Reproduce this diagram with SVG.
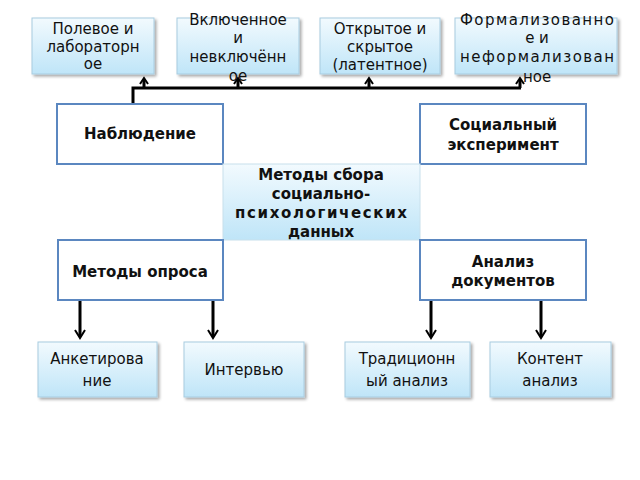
<svg xmlns="http://www.w3.org/2000/svg" width="640" height="480" viewBox="0 0 640 480">
<defs>
<linearGradient id="lb" x1="0" y1="0" x2="0" y2="1">
<stop offset="0" stop-color="#f2fafe"/>
<stop offset="1" stop-color="#bfe5f8"/>
</linearGradient>
<filter id="sh" x="-10%" y="-10%" width="130%" height="130%">
<feGaussianBlur in="SourceAlpha" stdDeviation="1.5"/>
<feOffset dx="1.5" dy="2" result="b"/>
<feComponentTransfer><feFuncA type="linear" slope="0.35"/></feComponentTransfer>
<feMerge><feMergeNode/><feMergeNode in="SourceGraphic"/></feMerge>
</filter>
</defs>
<style>
.lt{fill:url(#lb);stroke:#a8cce0;stroke-width:1;filter:url(#sh)}
.wt{fill:#ffffff;stroke:#5b87c0;stroke-width:2}
.t{font-family:"DejaVu Sans",Verdana,sans-serif;font-size:15px;fill:#111;text-anchor:middle}
.b{font-family:"DejaVu Sans",Verdana,sans-serif;font-size:15px;font-weight:bold;fill:#111;text-anchor:middle}
.ln{fill:none;stroke:#000;stroke-width:3}
.hd{fill:none;stroke:#000;stroke-width:2}
</style>
<rect width="640" height="480" fill="#ffffff"/>
<g id="connectors">
<path class="ln" d="M133,104 V88 H521"/>
<path class="ln" d="M144,88 V80 M238,88 V80 M369,88 V80 M520,88 V80"/>
<path class="hd" d="M140,84 L144,78 L148,84 M234,84 L238,78 L242,84 M365,84 L369,78 L373,84 M516,84 L520,78 L524,84"/>
<path class="ln" d="M80,300 V336 M213,300 V336 M431,300 V336 M541,300 V336"/>
<path class="hd" d="M75,330 L80,338 L85,330 M208,330 L213,338 L218,330 M426,330 L431,338 L436,330 M536,330 L541,338 L546,330"/>
</g>
<g id="n1"><rect class="lt" x="32" y="18" width="122" height="56"/>
<text class="t" x="93" y="34">Полевое и</text><text class="t" x="93" y="52">лабораторн</text><text class="t" x="93" y="69">ое</text></g>
<g id="n2"><rect class="lt" x="177" y="18" width="122" height="56"/>
<text class="t" x="238" y="25">Включенное</text><text class="t" x="238" y="43">и</text><text class="t" x="238" y="62">невключённ</text><text class="t" x="238" y="81">ое</text></g>
<g id="n3"><rect class="lt" x="320" y="18" width="120" height="56"/>
<text class="t" x="380" y="34">Открытое и</text><text class="t" x="380" y="52">скрытое</text><text class="t" x="380" y="70">(латентное)</text></g>
<g id="n4"><rect class="lt" x="455" y="18" width="162" height="56"/>
<text class="t" x="537" y="25" textLength="154" lengthAdjust="spacing">Формализованно</text><text class="t" x="537" y="43">е и</text><text class="t" x="537" y="62" textLength="154" lengthAdjust="spacing">неформализован</text><text class="t" x="537" y="82">ное</text></g>
<g id="n5"><rect class="wt" x="57" y="104" width="166" height="60"/>
<text class="b" x="140" y="139">Наблюдение</text></g>
<g id="n6"><rect class="wt" x="420" y="104" width="166" height="60"/>
<text class="b" x="503" y="130">Социальный</text><text class="b" x="503" y="150">эксперимент</text></g>
<g id="n7"><rect x="223" y="164" width="197" height="76" fill="url(#lb)" stroke="#c8e0ec" stroke-width="1"/>
<text class="b" x="321" y="180">Методы сбора</text><text class="b" x="321" y="199">социально-</text><text class="b" x="321" y="218" textLength="172" lengthAdjust="spacing">психологических</text><text class="b" x="321" y="237">данных</text></g>
<g id="n8"><rect class="wt" x="58" y="240" width="165" height="60"/>
<text class="b" x="140" y="277">Методы опроса</text></g>
<g id="n9"><rect class="wt" x="420" y="240" width="166" height="60"/>
<text class="b" x="503" y="267">Анализ</text><text class="b" x="503" y="286">документов</text></g>
<g id="n10"><rect class="lt" x="38" y="342" width="119" height="55"/>
<text class="t" x="97" y="364">Анкетирова</text><text class="t" x="97" y="386">ние</text></g>
<g id="n11"><rect class="lt" x="184" y="342" width="120" height="55"/>
<text class="t" x="244" y="375">Интервью</text></g>
<g id="n12"><rect class="lt" x="345" y="342" width="125" height="55"/>
<text class="t" x="407" y="364">Традиционн</text><text class="t" x="407" y="386">ый анализ</text></g>
<g id="n13"><rect class="lt" x="490" y="342" width="121" height="55"/>
<text class="t" x="550" y="364">Контент</text><text class="t" x="550" y="386">анализ</text></g>
</svg>
